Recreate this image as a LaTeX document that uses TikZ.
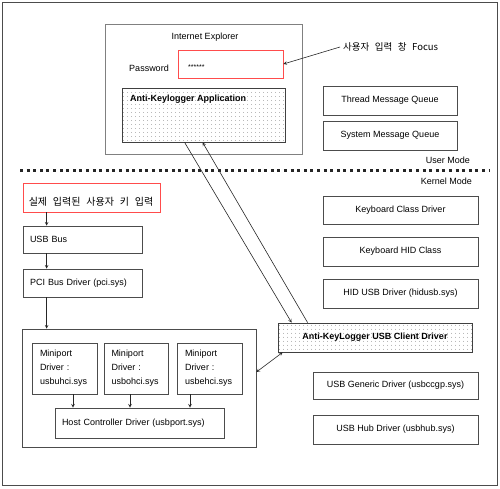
\documentclass[tikz,border=0pt]{standalone}
\usepackage{fontspec}
\setmainfont{Liberation Sans}
\newfontfamily\krfont[WordSpace=2.6]{Noto Sans CJK KR}
\usetikzlibrary{shadows,patterns.meta}

\begin{document}
\fontsize{9}{11}\selectfont
\begin{tikzpicture}[x=1pt, y=-1pt,
    box_style/.style={rectangle, draw=black!70, line width=0.8pt, fill=white, inner sep=0pt,
        drop shadow={shadow xshift=1.2pt, shadow yshift=-1.2pt, fill=black!35}},
    red_box/.style={box_style, draw=red!70, drop shadow={shadow xshift=1.2pt, shadow yshift=-1.2pt, fill=red!20}},
    dot_box/.style={rectangle, draw=black!75, line width=0.8pt, inner sep=0pt, font=\bfseries,
        drop shadow={shadow xshift=1.2pt, shadow yshift=-1.2pt, fill=black!35},
        preaction={fill=white}, pattern={Dots[distance=4pt, radius=0.45pt]}, pattern color=black!55},
    mini_style/.style={box_style, minimum height=51pt, text width=49pt, align=left,
        font=\fontsize{9}{14}\selectfont},
    arr/.style={->, >=stealth, line width=0.6pt, color=black!85},
    dbl_arr/.style={<->, >=stealth, line width=0.6pt, color=black!85},
    kr_text/.style={font=\krfont\fontsize{9.5}{11}\selectfont}
]
\useasboundingbox (0,0) rectangle (500,488);
\draw[black!70, line width=0.9pt] (2,2) rectangle (497,485);

\node[box_style, draw=black!50, line width=1pt, minimum width=197pt, minimum height=130pt] (ie) at (203.5,89) {};
\node (ietitle) at (205,37) {Internet Explorer};
\node (pwlabel) at (149,68) {Password};
\node[red_box, minimum width=105pt, minimum height=28pt] (pwfield) at (230.5,64) {};
\node[anchor=west, font=\fontsize{7}{8}\selectfont] (pwstars) at (185,67) {******};
\node[dot_box, minimum width=163pt, minimum height=54pt] (app) at (203.5,115) {};
\node[anchor=west, font=\bfseries] (apptitle) at (127,99) {Anti-Keylogger Application};

\node[anchor=west, kr_text] (focus) at (340,47) {사용자 입력 창 Focus};
\draw[arr] (focus.west) -- (pwfield.east);

\node[box_style, minimum width=134pt, minimum height=29pt] (tmq) at (390,100.5) {Thread Message Queue};
\node[box_style, minimum width=134pt, minimum height=29pt] (smq) at (390,135.5) {System Message Queue};

\node[anchor=east] (usermode) at (473,160) {User Mode};
\draw[black!85, line width=3pt, dash pattern=on 3pt off 3.6pt] (20,170) -- (490,170);
\node[anchor=east] (kernelmode) at (475,181) {Kernel Mode};

\node[red_box, minimum width=137pt, minimum height=29pt] (keyin) at (91.5,197.5) {};
\node[kr_text, font=\krfont\fontsize{10}{12}\selectfont] (keyintext) at (91,202) {실제 입력된 사용자 키 입력};
\node[box_style, minimum width=119pt, minimum height=27pt, text width=105pt, align=left] (usbbus) at (82.5,239.5) {USB Bus};
\node[box_style, minimum width=119pt, minimum height=28pt, text width=105pt, align=left] (pci) at (82.5,283) {PCI Bus Driver (pci.sys)};

\node[box_style, minimum width=234pt, minimum height=118pt] (container) at (139,388) {};
\node[mini_style, minimum width=65pt] (mini1) at (64.5,368.5) {Miniport\\Driver :\\usbuhci.sys};
\node[mini_style, minimum width=64pt] (mini2) at (136,368.5) {Miniport\\Driver :\\usbohci.sys};
\node[mini_style, minimum width=65pt] (mini3) at (209.5,368.5) {Miniport\\Driver :\\usbehci.sys};
\node[box_style, minimum width=169pt, minimum height=30pt, text width=155pt, align=left] (hcd) at (139.5,423) {Host Controller Driver (usbport.sys)};

\draw[arr] ([xshift=24pt]keyin.south west) -- ([xshift=24pt]usbbus.north west);
\draw[arr] ([xshift=24pt]usbbus.south west) -- ([xshift=24pt]pci.north west);
\draw[arr] ([xshift=24pt]pci.south west) -- ([xshift=25pt]container.north west);

\draw[arr] ([xshift=8.5pt]mini1.south) -- ([xshift=-66.5pt]hcd.north);
\draw[arr] ([xshift=-6pt]mini2.south) -- ([xshift=-9.5pt]hcd.north);
\draw[arr] ([xshift=-19.5pt]mini3.south) -- ([xshift=50.5pt]hcd.north);

\node[box_style, minimum width=155pt, minimum height=28pt] (kbclass) at (400.5,210) {Keyboard Class Driver};
\node[box_style, minimum width=155pt, minimum height=29pt] (kbhid) at (400.5,251.5) {Keyboard HID Class};
\node[box_style, minimum width=155pt, minimum height=29pt] (hidusb) at (400.5,293.5) {HID USB Driver (hidusb.sys)};
\node[dot_box, minimum width=194pt, minimum height=29pt] (client) at (375,337.5) {Anti-KeyLogger USB Client Driver};
\node[box_style, minimum width=165pt, minimum height=27pt] (usbgen) at (395.5,385.5) {USB Generic Driver (usbccgp.sys)};
\node[box_style, minimum width=165pt, minimum height=29pt] (usbhub) at (395.5,429.5) {USB Hub Driver (usbhub.sys)};

\draw[arr] ([xshift=63pt]app.south west) -- ([xshift=14pt]client.north west);
\draw[arr] ([xshift=30pt]client.north west) -- ([xshift=81pt]app.south west);
\draw[dbl_arr] ([xshift=5pt]client.south west) -- ([yshift=16pt]container.east);
\end{tikzpicture}
\end{document}
